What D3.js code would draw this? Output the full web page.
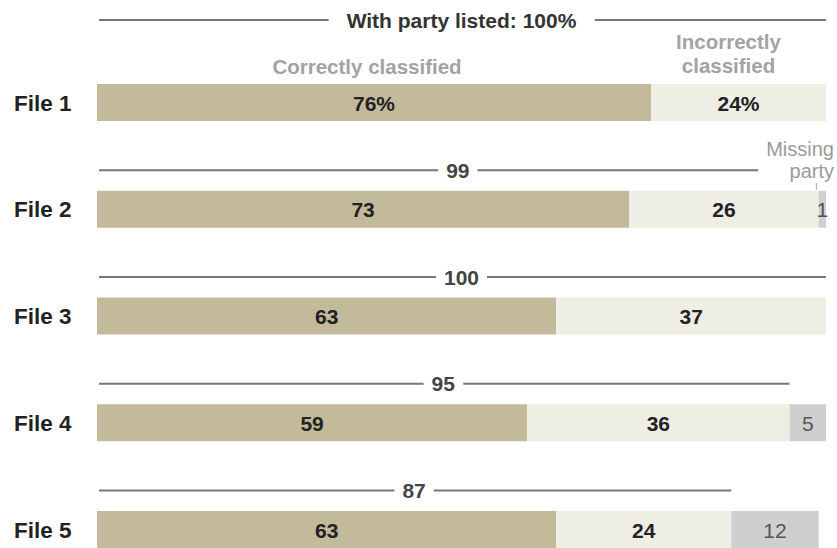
<!DOCTYPE html>
<html>
<head>
<meta charset="utf-8">
<script src="https://cdn.jsdelivr.net/npm/d3@7"></script>
<style>
  html, body { margin: 0; padding: 0; background: #fff; }
  svg { display: block; }
  text { font-family: "Liberation Sans", Arial, Helvetica, sans-serif; }
</style>
</head>
<body>
<svg id="chart" width="837" height="548"></svg>
<script>
// Share of records by party classification, per voter file
const files = ["File 1", "File 2", "File 3", "File 4", "File 5"];
const correct = [76, 73, 63, 59, 63];
const incorrect = [24, 26, 37, 36, 24];
const missing = [0, 1, 0, 5, 12];
const withParty = [100, 99, 100, 95, 87];
const segmentNames = ["Correctly classified", "Incorrectly classified", "Missing party"];
const colors = ["#c3b99b", "#eeeee5", "#cfcfd0"];

const svg = d3.select("#chart");

const x = d3.scaleLinear().domain([0, 100]).range([97, 826]);
const y = d3.scalePoint().domain(files).range([102.5, 529.5]);
const barH = 37;

const rows = files.map((f, i) => ({
  file: f, i,
  segs: [correct[i], incorrect[i], missing[i]],
  withParty: withParty[i]
}));

const row = svg.selectAll("g.row").data(rows).join("g").attr("class", "row");

// stacked segments with their value labels
row.each(function(d) {
  const g = d3.select(this);
  let acc = 0;
  d.segs.forEach((v, k) => {
    if (v <= 0) return;
    const x0 = x(acc), x1 = x(acc + v);
    g.append("rect")
      .attr("x", x0).attr("y", y(d.file) - barH / 2)
      .attr("width", x1 - x0).attr("height", barH)
      .attr("fill", colors[k]);
    g.append("text")
      .attr("x", (x0 + x1) / 2).attr("y", y(d.file) + 8)
      .attr("text-anchor", "middle")
      .attr("font-size", 21)
      .attr("font-weight", k === 2 ? "normal" : "bold")
      .attr("fill", k === 2 ? "#555" : "#222")
      .text(d.i === 0 ? v + "%" : v);
    acc += v;
  });
  // row label
  g.append("text")
    .attr("x", 14).attr("y", y(d.file) + 8)
    .attr("font-size", 22.5)
    .attr("font-weight", "bold")
    .attr("fill", "#222")
    .text(d.file);
});

// "Missing party" label beside the File 2 sliver
const missLabel = svg.append("text")
  .attr("text-anchor", "end").attr("font-size", 20)
  .attr("fill", "#9a9a9a");
missLabel.append("tspan").attr("x", 834).attr("y", 156).text("Missing");
missLabel.append("tspan").attr("x", 834).attr("y", 178).text("party");
const missX = (x(99) + x(100)) / 2 - 6;
svg.append("line").attr("x1", missX).attr("x2", missX)
  .attr("y1", 183).attr("y2", 190)
  .attr("stroke", "#aaa").attr("stroke-width", 1);
const missLeft = missLabel.node().getBBox().x;

// bracket lines above each bar: share of the file with a party listed
row.each(function(d) {
  const g = d3.select(this);
  const first = d.i === 0;
  const ly = first ? 20 : y(d.file) - 39;
  const xl = x(0) + 2;
  let xr = x(d.withParty);
  if (d.i === 1) xr = Math.min(xr, missLeft - 8);
  const cx = (x(0) + x(d.withParty)) / 2;
  const t = g.append("text")
    .attr("x", cx).attr("y", ly + 7.5)
    .attr("text-anchor", "middle")
    .attr("font-size", 21)
    .attr("font-weight", "bold")
    .attr("fill", first ? "#333" : "#444")
    .text(first ? "With party listed: " + d.withParty + "%" : d.withParty);
  const bb = t.node().getBBox();
  const gap = first ? 18 : 8;
  g.append("line").attr("x1", xl).attr("x2", bb.x - gap)
    .attr("y1", ly).attr("y2", ly)
    .attr("stroke", "#777").attr("stroke-width", 2);
  g.append("line").attr("x1", bb.x + bb.width + gap).attr("x2", xr)
    .attr("y1", ly).attr("y2", ly)
    .attr("stroke", "#777").attr("stroke-width", 2);
});

// segment headings above the first bar
svg.append("text")
  .attr("x", (x(0) + x(correct[0])) / 2 - 7).attr("y", 74)
  .attr("text-anchor", "middle").attr("font-size", 20.5)
  .attr("font-weight", "bold")
  .attr("fill", "#a3a3a3").text(segmentNames[0]);
const incX = (x(correct[0]) + x(100)) / 2 - 10;
const inc = svg.append("text")
  .attr("text-anchor", "middle").attr("font-size", 20.5)
  .attr("font-weight", "bold")
  .attr("fill", "#a3a3a3");
inc.append("tspan").attr("x", incX).attr("y", 49).text("Incorrectly");
inc.append("tspan").attr("x", incX).attr("y", 73).text("classified");
</script>
</body>
</html>
